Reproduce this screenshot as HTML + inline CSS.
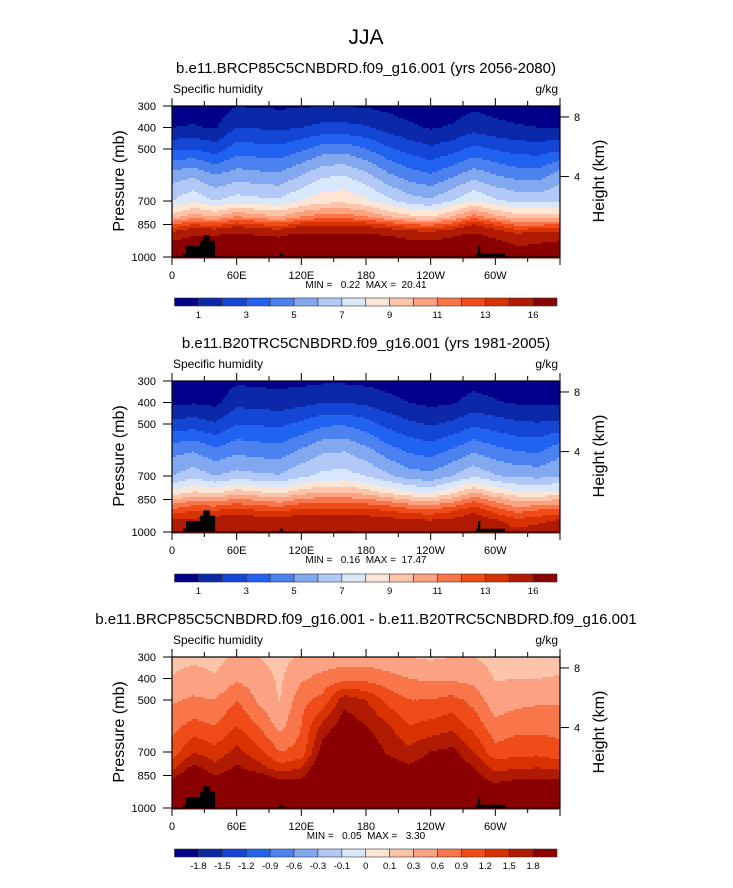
<!DOCTYPE html>
<html><head><meta charset="utf-8">
<style>
body{margin:0;background:#fff;}
svg{display:block;font-family:"Liberation Sans",Arial,sans-serif;}
text{white-space:pre;}
</style></head>
<body>
<svg id="fig" width="733" height="888" viewBox="0 0 733 888" xmlns="http://www.w3.org/2000/svg">
<text x="366" y="44" font-size="21" text-anchor="middle">JJA</text>
</svg>
<script>
// ---- data ----
const lons = [0,20,40,60,80,100,120,140,160,180,200,220,240,260,280,300,320,340,360];
const plevs = [300,400,500,600,700,800,850,900,950,1000];
const qLevels = [1,2,3,4,5,6,7,8,9,10,11,12,13,14,16];
const qLabels = ["1","","3","","5","","7","","9","","11","","13","","16"];
const dLevels = [-1.8,-1.5,-1.2,-0.9,-0.6,-0.3,-0.1,0,0.1,0.3,0.6,0.9,1.2,1.5,1.8];
const dLabels = ["-1.8","-1.5","-1.2","-0.9","-0.6","-0.3","-0.1","0","0.1","0.3","0.6","0.9","1.2","1.5","1.8"];
const colors = ["#00008a","#0a28a8","#1446d6","#2262f0","#4c82f0","#82a8f0","#b2c9f8","#d8e8fa","#fde6d6","#fcc4a8","#fca282","#f8764a","#f04c1a","#d83200","#b01a00","#8a0000"];
// q fields: one array per longitude column (values at plevs)
const futureQ = [
[0.4,1.0,2.8,5.5,7.0,9.5,12.0,15.0,17.0,17.5],
[0.5,1.1,3.0,5.8,7.8,10.5,13.0,16.0,17.0,17.5],
[0.3,0.9,2.5,5.0,7.0,10.0,12.5,16.0,17.5,18.0],
[1.0,2.0,3.5,5.5,7.5,11.0,13.5,16.5,17.5,18.0],
[0.9,1.9,3.4,5.3,7.3,10.5,13.0,16.0,17.3,17.5],
[0.85,1.8,3.3,5.2,7.2,10.0,12.5,15.8,17.0,17.5],
[0.9,2.0,3.8,6.0,8.0,11.0,13.5,16.5,17.5,18.0],
[1.0,2.3,4.5,6.8,8.6,11.5,13.8,16.5,17.5,18.0],
[1.0,2.3,4.6,7.0,8.7,11.5,13.8,16.5,17.5,18.0],
[0.9,2.1,4.0,6.3,8.2,11.0,13.5,16.3,17.5,18.0],
[0.7,1.6,3.2,5.2,7.3,10.0,12.8,16.0,17.3,17.5],
[0.5,1.2,2.6,4.5,6.5,9.3,12.0,15.5,16.8,17.0],
[0.4,0.9,2.2,4.1,6.2,9.0,11.7,15.3,16.8,17.0],
[0.5,1.1,2.6,4.8,7.0,10.0,12.5,15.8,17.0,17.5],
[0.8,1.6,3.3,5.6,8.0,11.5,14.0,16.5,17.3,17.5],
[0.6,1.3,2.9,5.0,7.2,10.3,12.8,15.5,17.0,17.0],
[0.5,1.1,2.6,4.6,6.8,9.5,11.7,14.5,16.0,16.5],
[0.45,1.0,2.5,4.5,6.7,9.3,11.8,15.0,16.3,17.0],
[0.4,1.0,2.8,5.5,7.0,9.5,12.0,15.0,17.0,17.5]];
const histQ = [
[0.3,0.8,2.3,4.6,6.0,8.2,10.0,12.3,14.3,15.0],
[0.4,0.9,2.5,4.9,6.6,9.0,10.8,13.0,14.3,14.8],
[0.25,0.75,2.1,4.2,6.0,8.6,10.4,13.0,14.8,15.5],
[0.85,1.7,3.0,4.7,6.4,9.4,11.2,13.4,15.0,16.2],
[0.75,1.6,2.9,4.5,6.2,9.0,10.8,13.0,14.8,16.2],
[0.7,1.5,2.8,4.4,6.1,8.6,10.4,12.8,14.5,16.0],
[0.75,1.7,3.2,5.1,6.8,9.4,11.2,13.4,15.0,16.2],
[0.85,1.95,3.8,5.8,7.3,9.8,11.4,13.4,15.0,16.0],
[0.85,1.95,3.9,5.9,7.4,9.8,11.4,13.4,15.0,16.2],
[0.75,1.8,3.4,5.3,7.0,9.4,11.2,13.2,14.8,15.8],
[0.6,1.35,2.7,4.4,6.2,8.6,10.6,13.0,14.6,15.5],
[0.4,1.0,2.2,3.8,5.5,8.0,9.9,12.5,14.2,14.8],
[0.35,0.75,1.9,3.5,5.3,7.7,9.6,12.3,14.2,14.8],
[0.4,0.9,2.2,4.1,6.0,8.6,10.3,12.8,14.4,15.0],
[0.7,1.35,2.8,4.8,6.8,9.8,11.6,13.8,14.8,15.2],
[0.5,1.1,2.5,4.3,6.1,8.8,10.6,12.5,14.3,14.8],
[0.4,0.9,2.2,3.9,5.8,8.1,9.6,11.6,13.4,14.3],
[0.38,0.85,2.1,3.8,5.7,7.9,9.7,12.1,13.7,14.8],
[0.3,0.8,2.3,4.6,6.0,8.2,10.0,12.3,14.3,15.0]];
const diffQ = [
[0.2,0.32,0.55,0.8,1.0,1.4,1.7,2.0,2.2,2.2],
[0.25,0.4,0.65,1.0,1.5,1.9,2.1,2.2,2.2,2.2],
[0.2,0.33,0.6,0.9,1.3,1.6,1.8,2.1,2.2,2.2],
[0.35,0.55,0.9,1.2,1.6,1.85,2.0,2.2,2.2,2.2],
[0.3,0.45,0.55,0.9,1.3,1.65,1.9,2.1,2.2,2.2],
[0.2,0.25,0.28,0.5,0.9,1.3,1.7,2.0,2.2,2.2],
[0.35,0.55,0.8,0.9,1.0,1.5,1.7,2.0,2.2,2.2],
[0.4,0.7,1.0,1.6,2.0,2.2,2.2,2.2,2.2,2.2],
[0.45,0.8,1.7,2.0,2.2,2.2,2.2,2.2,2.2,2.2],
[0.45,0.8,1.5,1.8,2.1,2.2,2.2,2.2,2.2,2.2],
[0.4,0.7,1.1,1.55,1.75,2.0,2.2,2.2,2.2,2.2],
[0.3,0.6,0.9,1.2,1.6,1.85,2.0,2.2,2.2,2.2],
[0.25,0.55,0.9,1.3,1.8,2.0,2.2,2.2,2.2,2.2],
[0.3,0.55,1.0,1.4,1.9,2.1,2.2,2.2,2.2,2.2],
[0.3,0.5,0.8,1.1,1.5,1.8,1.9,2.0,2.2,2.2],
[0.2,0.28,0.4,0.7,1.0,1.4,1.6,1.9,2.0,2.1],
[0.2,0.3,0.5,0.8,1.1,1.45,1.7,2.0,2.2,2.2],
[0.15,0.3,0.55,0.8,1.1,1.5,1.75,1.9,2.2,2.2],
[0.2,0.32,0.55,0.8,1.0,1.4,1.7,2.0,2.2,2.2]];
// topography blocks: [lonStart, lonEnd, topPressure]
const landLon0 = [10.5,13,26,29,35,100,282,284,286];
const landLon1 = [13,26,29,35,40,103,284,286,309];
const landTop  = [985,950,925,900,925,985,985,950,985];
const xTickVals = [0,60,120,180,240,300];
const xTickLabels = ["0","60E","120E","180","120W","60W"];
const yTickVals = [300,400,500,700,850,1000];
const hTickVals = [8,4];

// ---- axes ----
const X0=172, X1=560, PH=151;
const axP=[300,400,500,600,700,850,1000], axY=[0,21.5,43,69,95,118.5,151];
const hP={8:351,4:606};
function xOf(lon){return X0+(lon/360)*(X1-X0);}
function yOf(p){for(let i=0;i<axP.length-1;i++){if(p<=axP[i+1]){return axY[i]+(p-axP[i])/(axP[i+1]-axP[i])*(axY[i+1]-axY[i]);}}return PH;}
function pOf(y){for(let i=0;i<axY.length-1;i++){if(y<=axY[i+1]){return axP[i]+(y-axY[i])/(axY[i+1]-axY[i])*(axP[i+1]-axP[i]);}}return 1000;}
function field(F,lon,p){
 let i=Math.min(lons.length-2,Math.floor(lon/20)); let fx=(lon-lons[i])/20;
 let j=0; while(j<plevs.length-2 && p>plevs[j+1]) j++;
 let fy=Math.max(0,Math.min(1,(p-plevs[j])/(plevs[j+1]-plevs[j])));
 const a=F[i][j]*(1-fx)+F[i+1][j]*fx, b=F[i][j+1]*(1-fx)+F[i+1][j+1]*fx;
 return a*(1-fy)+b*fy;}
function band(v,lev){let k=0;while(k<lev.length&&v>=lev[k])k++;return k;}
const NS="http://www.w3.org/2000/svg";
const svg=document.getElementById('fig');
function mk(tag,attrs,parent){const e=document.createElementNS(NS,tag);for(const k in attrs)e.setAttribute(k,attrs[k]);(parent||svg).appendChild(e);return e;}
function txt(x,y,s,size,anchor,parent){const t=mk('text',{x:x,y:y,'font-size':size,'text-anchor':anchor||'start'},parent);t.textContent=s;return t;}

function panel(top,F,lev,labels,subtitle,subY,minmax,cbY,pid){
 const g=mk('g',{});
 
 
 const st=txt(366,subY,subtitle,15,'middle',g);
 
 
 const lt=txt(173,top-13,'Specific humidity',12,'start',g);
 
 
 const ut=txt(558,top-13,'g/kg',12,'end',g);
 
 
 const cg=mk('g',{},g);
 
 
 const dx=2,dy=2;
 for(let y=0;y<PH;y+=dy){
  const p=pOf(y+dy/2); let runStart=X0, runK=-1;
  for(let x=X0;x<=X1;x+=dx){
   let k=-2;
   if(x<X1){const lon=(x+dx/2-X0)/(X1-X0)*360;k=band(field(F,Math.min(lon,359.9),p),lev);}
   if(k!==runK){
    if(runK>=0){const r=mk('rect',{x:runStart,y:top+y,width:Math.min(x,X1)-runStart+0.5,height:dy+0.5,fill:colors[runK]},cg);
     
     }
    runStart=x;runK=k;}
  }
 }
 for(let i=0;i<landTop.length;i++){
  const r=mk('rect',{x:xOf(landLon0[i]),y:top+yOf(landTop[i]),width:xOf(landLon1[i])-xOf(landLon0[i]),height:PH-yOf(landTop[i]),fill:'#000'},g);
  
  
 }
 const fr=mk('rect',{x:X0,y:top,width:X1-X0,height:PH,fill:'none',stroke:'#000','stroke-width':1.2},g);
 
 
 for(let l=0;l<=360;l+=30){
  const x=xOf(l);
  mk('line',{x1:x,y1:PH+top,x2:x,y2:PH+top+(l%60===0?8:5),stroke:'#000'},g);
  mk('line',{x1:x,y1:top,x2:x,y2:top-(l%60===0?8:5),stroke:'#000'},g);
 }
 xTickVals.forEach((v,i)=>{const t=txt(xOf(v),top+PH+22,xTickLabels[i],11,'middle',g);
  
  });
 yTickVals.forEach(v=>{const y=top+yOf(v);mk('line',{x1:X0-9,y1:y,x2:X0,y2:y,stroke:'#000'},g);
  const t=txt(156,y+4,String(v),11,'end',g);
  
  });
 hTickVals.forEach(v=>{const y=top+yOf(hP[v]);mk('line',{x1:X1,y1:y,x2:X1+9,y2:y,stroke:'#000'},g);
  const t=txt(574,y+4,String(v),11,'start',g);
  
  });
 const yt=txt(0,0,'Pressure (mb)',16,'middle',g);
 yt.setAttribute('transform','translate(124,'+(top+75)+') rotate(-90)');
 
 
 const ht=txt(0,0,'Height (km)',16,'middle',g);
 ht.setAttribute('transform','translate(604,'+(top+75)+') rotate(-90)');
 
 
 const mm=txt(366,top+PH+31,minmax,10,'middle',g);
 
 
 const cb=mk('g',{},g);
 
 
 const cx0=174.5,cw=(557-174.5)/16;
 for(let k=0;k<16;k++){const r=mk('rect',{x:cx0+k*cw,y:cbY,width:cw,height:8,fill:colors[k],stroke:'#333','stroke-width':0.6},cb);
  
  }
 labels.forEach((s,i)=>{if(!s)return;const t=txt(cx0+(i+1)*cw,cbY+20,s,9.5,'middle',cb);
  
  });
}
panel(106,futureQ,qLevels,qLabels,'b.e11.BRCP85C5CNBDRD.f09_g16.001 (yrs 2056-2080)',73,'MIN =   0.22  MAX =  20.41',298,'future');
panel(381,histQ,qLevels,qLabels,'b.e11.B20TRC5CNBDRD.f09_g16.001 (yrs 1981-2005)',348,'MIN =   0.16  MAX =  17.47',574,'historical');
panel(657,diffQ,dLevels,dLabels,'b.e11.BRCP85C5CNBDRD.f09_g16.001 - b.e11.B20TRC5CNBDRD.f09_g16.001',624,'MIN =   0.05  MAX =   3.30',849,'difference');
</script>
</body></html>
